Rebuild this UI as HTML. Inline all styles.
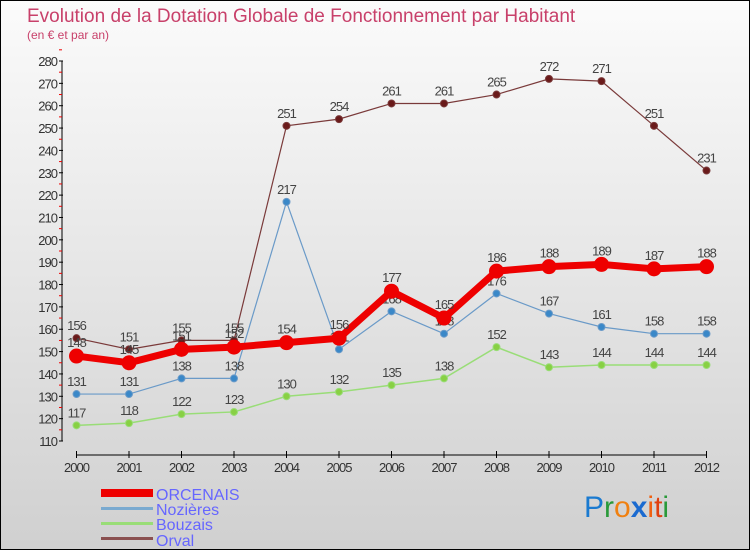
<!DOCTYPE html>
<html><head><meta charset="utf-8"><style>
body{margin:0;}
#wrap{position:relative;width:748px;height:548px;border:1px solid #000;background:linear-gradient(#fbfbfb,#d0d0d0);font-family:"Liberation Sans",sans-serif;overflow:hidden}
svg{position:absolute;left:0;top:0}
</style></head><body>
<div id="wrap">
<svg id="chart" width="750" height="550">
<text x="26" y="21" font-size="19" fill="#c8406a">Evolution de la Dotation Globale de Fonctionnement par Habitant</text>
<text x="26" y="38" font-size="12" fill="#c8406a">(en € et par an)</text>
<g id="axes"></g><g id="series"></g>
<g>
<rect x="100" y="488" width="52" height="8" fill="#e00"/>
<text x="155" y="499" font-size="16" fill="#6666ff">ORCENAIS</text>
<rect x="100" y="506" width="52" height="3" fill="#7aaad0"/>
<text x="155" y="514" font-size="16" fill="#6666ff">Nozières</text>
<rect x="100" y="521" width="52" height="3" fill="#99dd77"/>
<text x="155" y="529" font-size="16" fill="#6666ff">Bouzais</text>
<rect x="100" y="536" width="52" height="3" fill="#8a5050"/>
<text x="155" y="545" font-size="16" fill="#6666ff">Orval</text>
</g>
<g font-size="30">
<text x="583" y="516"><tspan fill="#1a7ad0">P</tspan><tspan fill="#2a9a3a">r</tspan><tspan fill="#f08010">o</tspan><tspan fill="#1a6ad0" font-weight="bold">x</tspan><tspan fill="#f06010">i</tspan><tspan fill="#e04010">t</tspan><tspan fill="#2a9a3a">i</tspan></text>
</g>
</svg>
</div>
<script>
const years=["2000","2001","2002","2003","2004","2005","2006","2007","2008","2009","2010","2011","2012"];
const orcenais=[148,145,151,152,154,156,177,165,186,188,189,187,188];
const nozieres=[131,131,138,138,217,151,168,158,176,167,161,158,158];
const bouzais=[117,118,122,123,130,132,135,138,152,143,144,144,144];
const orval=[156,151,155,155,251,254,261,261,265,272,271,251,231];
const yTicks=[110,120,130,140,150,160,170,180,190,200,210,220,230,240,250,260,270,280];
const NS="http://www.w3.org/2000/svg";
const x=i=>75.5+i*52.5;
const y=v=>440-(v-110)*380/170;
function mk(t,a,p){const e=document.createElementNS(NS,t);for(const k in a)e.setAttribute(k,a[k]);p.appendChild(e);return e;}
const ax=document.getElementById('axes');
let l=mk('line',{x1:61,y1:60,x2:61,y2:440,stroke:'#000'},ax);


yTicks.forEach(v=>{
 mk('line',{x1:58,x2:62,y1:y(v),y2:y(v),stroke:'#000'},ax);
 mk('line',{x1:58,x2:61,y1:y(v+5),y2:y(v+5),stroke:'#e00'},ax);
 const t=mk('text',{x:56,y:y(v)+5,'font-size':13,fill:'#333','text-anchor':'end','letter-spacing':'-1'},ax);t.textContent=v;
 
 
});
l=mk('line',{x1:75,y1:454,x2:706,y2:454,stroke:'#000'},ax);


years.forEach((yr,i)=>{
 mk('line',{x1:x(i),x2:x(i),y1:450,y2:457,stroke:'#000'},ax);
 const t=mk('text',{x:x(i),y:471,'font-size':13,fill:'#333','text-anchor':'middle','letter-spacing':'-1'},ax);t.textContent=yr;
 
 
});
const sg=document.getElementById('series');
function series(name,data,color,w,r,fill,labelOff){
 const g=mk('g',{},sg);
 
 
 const pl=mk('polyline',{points:data.map((v,i)=>x(i)+','+y(v)).join(' '),fill:'none',stroke:color,'stroke-width':w},g);
 
 
 data.forEach((v,i)=>{
  const c=mk('circle',{cx:x(i),cy:y(v),r:r,fill:fill,stroke:color,'stroke-width':1},g);
  
  
  const t=mk('text',{x:x(i),y:y(v)-labelOff,'font-size':13,fill:'#444','text-anchor':'middle','letter-spacing':'-1'},g);t.textContent=v;
  
  
 });
}
series('orval',orval,'#7a3a3a',1.2,3.5,'#6a1a1a',8);
series('nozieres',nozieres,'#6a9ac8',1.2,3.5,'#3a88c8',8);
series('bouzais',bouzais,'#99dd77',1.5,3.5,'#88d044',8);
series('orcenais',orcenais,'#ee0000',7,7,'#ee0000',9);
</script>
</body></html>
